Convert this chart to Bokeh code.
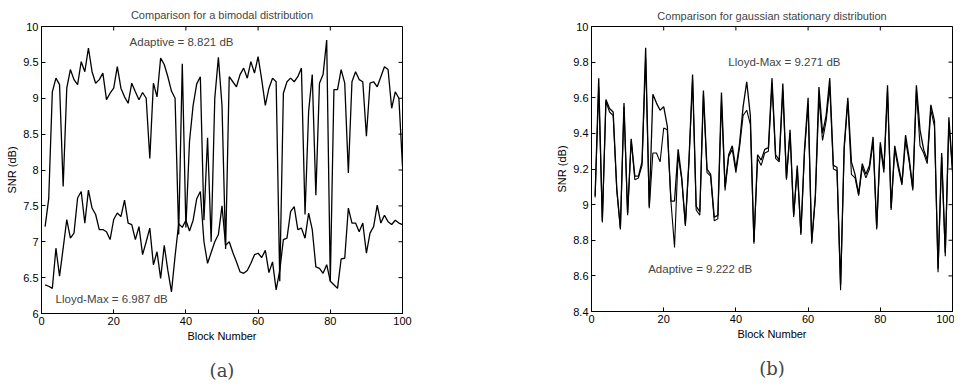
import math
from bokeh.plotting import figure
from bokeh.layouts import row
from bokeh.models import (FixedTicker, Label, Title, CustomJSTickFormatter, Range1d)
from bokeh.embed import file_html
from bokeh.resources import INLINE

FONT = "Liberation Sans"

# ---------------- data ----------------
blocks = list(range(1, 101))

# (a) bimodal distribution
adaptive_a = [
    7.21, 7.60, 9.09, 9.28, 9.19, 7.77, 9.14, 9.40, 9.26, 9.19,
    9.51, 9.37, 9.70, 9.37, 9.21, 9.26, 9.35, 8.98, 9.07, 9.14,
    9.44, 9.14, 9.02, 8.93, 9.21, 9.09, 8.98, 9.08, 9.00, 8.16,
    9.21, 9.02, 9.56, 9.47, 9.30, 9.10, 9.00, 7.10, 9.48, 7.20,
    8.40, 8.90, 9.20, 9.30, 7.30, 8.45, 7.00, 9.00, 9.57, 8.90,
    6.90, 9.30, 9.23, 9.16, 9.33, 9.42, 9.28, 9.51, 9.35, 9.58,
    9.26, 8.90, 9.14, 9.28, 9.23, 6.45, 9.07, 9.23, 9.28, 9.23,
    9.30, 9.42, 7.38, 8.82, 9.33, 7.65, 9.21, 9.33, 9.81, 6.45,
    9.12, 9.12, 9.40, 9.21, 7.96, 9.23, 9.37, 9.26, 9.23, 8.47,
    9.21, 9.23, 9.16, 9.30, 9.44, 9.40, 8.86, 9.09, 9.00, 8.05,
]
lloyd_a = [
    6.40, 6.38, 6.35, 6.91, 6.52, 6.91, 7.31, 7.05, 7.12, 7.61,
    7.70, 7.26, 7.72, 7.47, 7.38, 7.17, 7.17, 7.14, 7.03, 7.31,
    7.40, 7.35, 7.58, 7.26, 7.24, 7.03, 7.21, 6.82, 7.00, 7.19,
    6.68, 6.86, 6.49, 6.95, 6.60, 6.30, 6.80, 7.25, 7.20, 7.30,
    7.15, 7.30, 7.60, 7.70, 7.00, 6.70, 6.85, 7.00, 7.10, 7.50,
    6.95, 7.00, 6.85, 6.72, 6.58, 6.56, 6.60, 6.70, 6.82, 6.84,
    6.78, 6.88, 6.57, 6.72, 6.33, 6.60, 7.03, 7.05, 7.42, 7.49,
    7.17, 7.19, 7.05, 7.40, 7.17, 6.65, 6.63, 6.56, 6.68, 6.45,
    6.40, 6.35, 6.76, 6.77, 7.47, 7.26, 7.26, 7.14, 7.26, 6.84,
    7.12, 7.21, 7.51, 7.26, 7.37, 7.28, 7.24, 7.30, 7.26, 7.24,
]

# (b) gaussian stationary distribution
lloyd_b = [
    9.05, 9.71, 8.91, 9.59, 9.54, 9.52, 9.09, 8.87, 9.57, 8.95,
    9.37, 9.16, 9.16, 9.24, 9.88, 8.99, 9.62, 9.57, 9.53, 9.55,
    9.44, 9.02, 9.02, 9.31, 9.15, 8.89, 9.25, 9.73, 8.99, 8.96,
    9.64, 9.20, 9.17, 8.93, 8.94, 9.63, 9.10, 9.28, 9.33, 9.20,
    9.34, 9.55, 9.69, 9.50, 8.79, 9.28, 9.25, 9.31, 9.32, 9.71,
    9.28, 9.25, 9.68, 9.15, 9.42, 8.94, 9.22, 8.84, 9.31, 9.60,
    8.79, 9.05, 9.66, 9.40, 9.50, 9.71, 9.22, 9.21, 8.55, 9.33,
    9.60, 9.24, 9.17, 9.06, 9.23, 9.17, 9.22, 9.38, 8.87, 9.35,
    9.20, 9.67, 8.98, 9.33, 9.22, 9.12, 9.39, 9.26, 9.09, 9.67,
    9.42, 9.31, 9.25, 9.56, 9.47, 8.64, 9.29, 8.73, 9.49, 9.20,
]
adaptive_b = [
    9.04, 9.66, 8.90, 9.58, 9.52, 9.50, 9.08, 8.86, 9.55, 8.94,
    9.36, 9.14, 9.15, 9.22, 9.82, 8.98, 9.29, 9.29, 9.24, 9.43,
    9.42, 9.02, 8.76, 9.28, 9.14, 8.88, 9.24, 9.70, 8.97, 8.94,
    9.62, 9.18, 9.16, 8.91, 8.92, 9.58, 9.08, 9.27, 9.31, 9.18,
    9.32, 9.50, 9.53, 9.45, 8.78, 9.26, 9.22, 9.29, 9.30, 9.68,
    9.26, 9.24, 9.64, 9.14, 9.40, 8.93, 9.20, 8.83, 9.29, 9.56,
    8.78, 9.03, 9.60, 9.36, 9.47, 9.66, 9.20, 9.19, 8.52, 9.31,
    9.58, 9.17, 9.15, 9.05, 9.21, 9.15, 9.20, 9.35, 8.86, 9.33,
    9.18, 9.64, 8.97, 9.31, 9.20, 9.11, 9.36, 9.24, 9.08, 9.64,
    9.33, 9.29, 9.23, 9.53, 9.44, 8.62, 9.27, 8.71, 9.46, 9.18,
]

x_ticks = [0, 20, 40, 60, 80, 100]
y_ticks_a = [6, 6.5, 7, 7.5, 8, 8.5, 9, 9.5, 10]
y_ticks_b = [8.4, 8.6, 8.8, 9, 9.2, 9.4, 9.6, 9.8, 10]


def style_axis(ax):
    ax.axis_line_color = "black"
    ax.major_tick_line_color = "black"
    ax.major_tick_in = 4
    ax.major_tick_out = 0
    ax.minor_tick_line_color = None
    ax.major_label_text_font = FONT
    ax.major_label_text_color = "black"
    ax.major_label_text_font_size = "11px"
    ax.major_label_standoff = 3
    ax.axis_label_text_font = FONT
    ax.axis_label_text_font_size = "11px"
    ax.axis_label_text_font_style = "normal"
    ax.axis_label_text_color = "black"
    ax.axis_label_standoff = 2


def panel(title, ymin, ymax, yticks, sub, mb_left, mb_right, mb_top, mb_bottom,
          fh, title_standoff):
    p = figure(frame_width=361, frame_height=fh,
               x_range=Range1d(0, 100), y_range=Range1d(ymin, ymax),
               toolbar_location=None, output_backend="svg",
               min_border_left=mb_left, min_border_right=mb_right,
               min_border_top=mb_top, min_border_bottom=mb_bottom)
    p.grid.visible = False
    p.outline_line_color = "black"
    p.background_fill_color = "white"
    p.border_fill_color = "white"
    p.title.text = title
    p.title.align = "center"
    p.title.text_font = FONT
    p.title.text_font_size = "11px"
    p.title.text_font_style = "normal"
    p.title.standoff = title_standoff
    p.xaxis.ticker = FixedTicker(ticks=x_ticks)
    p.yaxis.ticker = FixedTicker(ticks=yticks)
    p.yaxis.formatter = CustomJSTickFormatter(code="return String(Math.round(tick*10)/10);")
    p.xaxis.axis_label = "Block Number"
    p.yaxis.axis_label = "SNR (dB)"
    style_axis(p.xaxis[0])
    style_axis(p.yaxis[0])
    # inward ticks on the top and right edges (box style)
    p.ray(x=x_ticks, y=[ymax] * len(x_ticks), length=4, length_units="screen",
          angle=-math.pi / 2, line_color="black", line_width=1)
    p.ray(x=[100] * len(yticks), y=yticks, length=4, length_units="screen",
          angle=math.pi, line_color="black", line_width=1)
    p.add_layout(Title(text=sub, align="center", text_font="DejaVu Serif",
                       text_font_size="18px", text_font_style="normal",
                       standoff=26), "below")
    return p


p1 = panel("Comparison for a bimodal distribution", 6, 10, y_ticks_a, "(a)",
           41, 149, 23, 68, 287, 12)
p1.line(blocks, adaptive_a, line_color="black", line_width=1.3)
p1.line(blocks, lloyd_a, line_color="black", line_width=1.3)
p1.add_layout(Label(x=24.4, y=9.78, text="Adaptive = 8.821 dB", text_font=FONT,
                    text_font_size="11.5px", text_baseline="middle"))
p1.add_layout(Label(x=3.9, y=6.2, text="Lloyd-Max = 6.987 dB", text_font=FONT,
                    text_font_size="11.5px", text_baseline="middle"))

p2 = panel("Comparison for gaussian stationary distribution", 8.4, 10, y_ticks_b, "(b)",
           40, 2, 26, 67, 285, 10)
p2.line(blocks, lloyd_b, line_color="black", line_width=1.3)
p2.line(blocks, adaptive_b, line_color="black", line_width=1.1)
p2.add_layout(Label(x=37.9, y=9.80, text="Lloyd-Max = 9.271 dB", text_font=FONT,
                    text_font_size="11.5px", text_baseline="middle"))
p2.add_layout(Label(x=15.7, y=8.64, text="Adaptive = 9.222 dB", text_font=FONT,
                    text_font_size="11.5px", text_baseline="middle"))

layout = row(p1, p2)
open("out.html", "w").write(file_html(layout, INLINE))
